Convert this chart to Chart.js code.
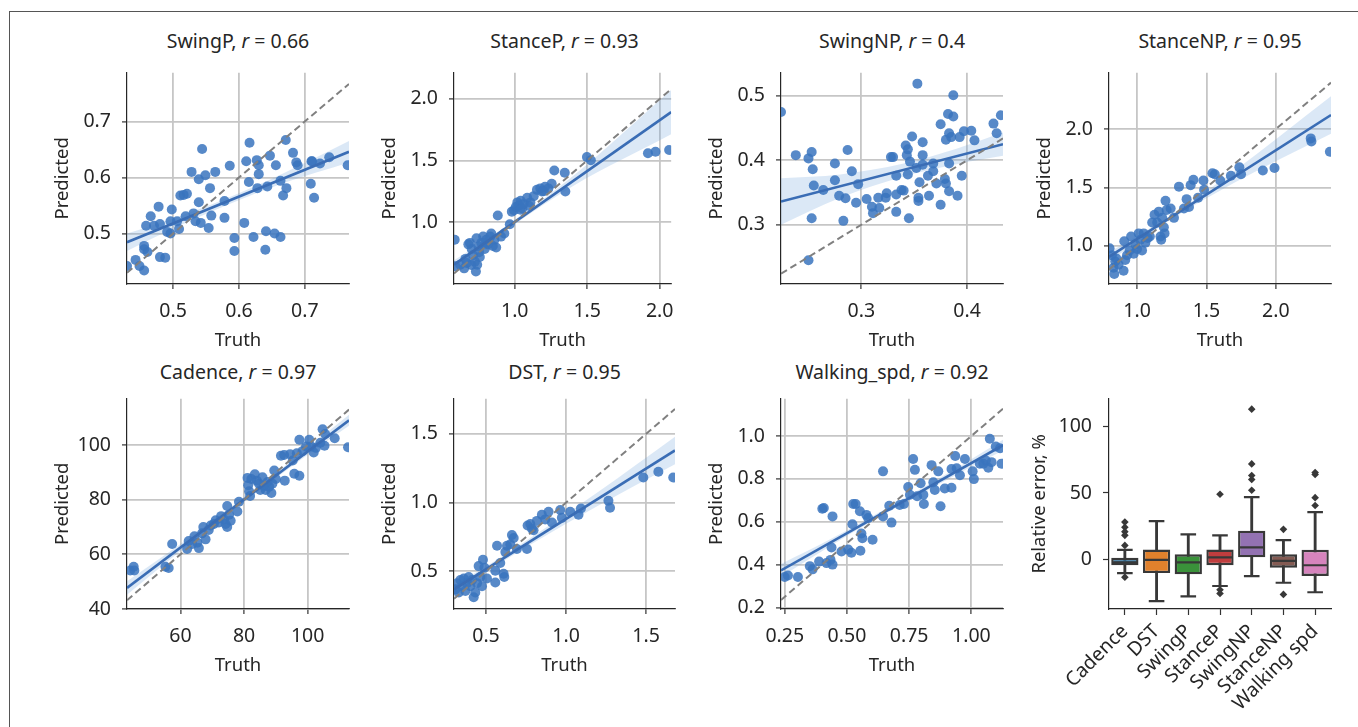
<!DOCTYPE html>
<html lang="en">
<head>
<meta charset="UTF-8">
<title>Gait parameter prediction</title>
<style>
  body { margin: 0; background: #fff; width: 1358px; height: 727px; overflow: hidden; position: relative;
         font-family: 'Noto Sans', sans-serif; color: #262626; }
  #frame { position: absolute; left: 9px; top: 11px; width: 1400px; height: 800px; border: 1px solid #555; }
  canvas { position: absolute; }
  .ttl { position: absolute; width: 320px; height: 26px; line-height: 26px; text-align: center;
         font-size: 19.5px; white-space: nowrap; }
</style>
<script src="https://cdn.jsdelivr.net/npm/chart.js@4.4.0/dist/chart.umd.min.js"></script>
</head>
<body>
<div id="frame"></div>
<script>
// ---- SwingP
const swingP_truth = [0.430,0.443,0.449,0.456,0.456,0.456,0.461,0.459,0.466,0.471,0.478,0.480,0.480,0.488,0.491,0.496,0.498,0.496,0.506,0.509,0.511,0.516,0.521,0.528,0.519,0.531,0.534,0.539,0.539,0.544,0.542,0.549,0.554,0.556,0.558,0.564,0.578,0.578,0.586,0.593,0.593,0.608,0.611,0.615,0.616,0.622,0.627,0.630,0.628,0.630,0.640,0.641,0.643,0.647,0.654,0.656,0.663,0.663,0.667,0.671,0.672,0.682,0.687,0.689,0.709,0.711,0.714,0.723,0.737,0.765,0.710];
const swingP_pred  = [0.442,0.453,0.442,0.434,0.478,0.472,0.467,0.514,0.531,0.514,0.548,0.517,0.458,0.457,0.503,0.522,0.543,0.500,0.522,0.508,0.568,0.569,0.571,0.610,0.531,0.536,0.522,0.556,0.597,0.651,0.519,0.604,0.510,0.581,0.532,0.610,0.558,0.528,0.621,0.469,0.492,0.519,0.629,0.592,0.662,0.494,0.631,0.622,0.581,0.606,0.471,0.504,0.584,0.639,0.500,0.622,0.494,0.594,0.568,0.667,0.581,0.644,0.627,0.622,0.589,0.629,0.564,0.625,0.636,0.622,0.629];
const swingP_fitX = [0.43, 0.767], swingP_fitY = [0.4845, 0.646];
const swingP_bandX = [0.43, 0.5, 0.58, 0.67, 0.767];
const swingP_bandLo = [0.469, 0.509, 0.550, 0.591, 0.627];
const swingP_bandHi = [0.500, 0.527, 0.562, 0.609, 0.665];

// ---- StanceP
const stanceP_truth = [0.590,0.624,0.651,0.669,0.680,0.691,0.703,0.714,0.725,0.732,0.736,0.741,0.754,0.759,0.770,0.782,0.793,0.804,0.815,0.831,0.838,0.849,0.860,0.872,0.883,0.905,0.928,0.966,0.980,0.995,1.007,1.018,1.029,1.041,1.052,1.063,1.086,1.108,1.131,1.153,1.176,1.187,1.209,1.232,1.255,1.273,1.345,1.349,1.498,1.525,1.919,1.971,2.065,0.586,0.66,0.70,0.75,0.80,1.04,1.10,1.20];
const stanceP_pred  = [0.641,0.653,0.623,0.666,0.818,0.830,0.780,0.729,0.678,0.597,0.868,0.653,0.754,0.716,0.830,0.881,0.780,0.856,0.818,0.881,0.906,0.805,0.856,0.792,1.053,0.881,0.906,0.982,1.084,1.096,1.122,1.159,1.134,1.172,1.109,1.147,1.197,1.159,1.210,1.261,1.273,1.248,1.286,1.273,1.311,1.418,1.400,1.248,1.527,1.501,1.559,1.570,1.585,0.856,0.70,0.65,0.80,0.83,1.10,1.13,1.25];
const stanceP_fitX = [0.581, 2.079], stanceP_fitY = [0.653, 1.893];
const stanceP_bandX = [0.581, 0.8, 1.0, 1.4, 2.079];
const stanceP_bandLo = [0.618, 0.812, 0.982, 1.291, 1.713];
const stanceP_bandHi = [0.688, 0.856, 1.018, 1.371, 2.073];

// ---- SwingNP
const swingNP_truth = [0.224,0.238,0.250,0.253,0.254,0.255,0.253,0.250,0.264,0.275,0.275,0.279,0.283,0.285,0.287,0.291,0.295,0.297,0.305,0.310,0.311,0.316,0.317,0.323,0.324,0.328,0.330,0.333,0.333,0.333,0.338,0.340,0.342,0.343,0.344,0.344,0.345,0.346,0.348,0.352,0.353,0.354,0.354,0.355,0.358,0.358,0.358,0.363,0.364,0.368,0.368,0.371,0.375,0.375,0.379,0.380,0.380,0.382,0.383,0.383,0.383,0.385,0.387,0.387,0.391,0.393,0.395,0.397,0.404,0.407,0.425,0.428,0.432];
const swingNP_pred  = [0.475,0.408,0.403,0.413,0.386,0.361,0.310,0.245,0.354,0.395,0.369,0.345,0.306,0.341,0.416,0.383,0.334,0.363,0.340,0.328,0.318,0.342,0.326,0.342,0.349,0.405,0.405,0.376,0.347,0.320,0.354,0.353,0.423,0.408,0.417,0.378,0.310,0.398,0.437,0.388,0.519,0.342,0.337,0.366,0.428,0.408,0.393,0.376,0.345,0.395,0.383,0.364,0.456,0.331,0.371,0.432,0.364,0.472,0.442,0.395,0.352,0.436,0.468,0.501,0.345,0.436,0.376,0.445,0.446,0.431,0.457,0.442,0.470];
const swingNP_fitX = [0.224, 0.434], swingNP_fitY = [0.336, 0.425];
const swingNP_bandX = [0.224, 0.28, 0.34, 0.39, 0.434];
const swingNP_bandLo = [0.300, 0.342, 0.375, 0.394, 0.407];
const swingNP_bandHi = [0.372, 0.378, 0.395, 0.418, 0.443];

// ---- StanceNP
const stanceNP_truth = [0.802,0.819,0.831,0.836,0.843,0.850,0.867,0.903,0.908,0.915,0.928,0.947,0.957,0.976,0.988,1.000,1.012,1.024,1.036,1.048,1.060,1.077,1.092,1.109,1.126,1.145,1.157,1.169,1.174,1.181,1.193,1.198,1.205,1.213,1.242,1.266,1.302,1.338,1.357,1.374,1.386,1.406,1.440,1.478,1.483,1.543,1.560,1.599,1.676,1.737,1.749,1.906,1.990,2.251,2.256,2.389];
const stanceNP_pred  = [0.979,0.920,0.813,0.760,0.867,0.893,0.840,0.787,1.040,0.880,0.920,0.960,1.080,0.933,1.013,0.973,1.107,1.053,0.960,1.107,1.027,1.067,1.080,1.200,1.267,1.200,1.293,1.080,1.053,1.240,1.160,1.107,1.387,1.307,1.320,1.240,1.507,1.320,1.400,1.333,1.520,1.565,1.413,1.560,1.480,1.621,1.613,1.560,1.600,1.672,1.613,1.645,1.667,1.920,1.893,1.805];
const stanceNP_fitX = [0.798, 2.397], stanceNP_fitY = [0.906, 2.120];
const stanceNP_bandX = [0.798, 1.0, 1.3, 1.7, 2.397];
const stanceNP_bandLo = [0.866, 1.034, 1.267, 1.541, 1.960];
const stanceNP_bandHi = [0.946, 1.084, 1.307, 1.641, 2.280];

// ---- Cadence
const cadence_truth = [44.2,45.3,45.5,55.3,56.3,57.4,62.1,62.6,63.7,64.4,65.3,65.8,66.8,67.9,67.2,68.9,69.5,70.5,71.1,72.1,72.8,73.7,74.2,74.7,74.7,75.3,75.8,77.9,78.4,81.1,81.3,81.6,81.9,82.3,83.4,84.0,84.7,85.1,85.8,86.3,86.8,87.4,87.9,88.6,88.9,89.5,90.0,91.6,92.6,92.8,94.5,95.3,95.8,97.4,96.6,97.4,98.4,99.5,100.5,101.1,101.9,102.6,104.0,104.7,105.3,105.5,112.7,108.5];
const cadence_pred  = [54.1,55.5,54.1,55.5,55.0,63.8,62.0,64.9,63.8,66.6,64.3,62.3,67.7,65.5,70.0,68.9,70.6,71.1,72.5,71.7,74.0,72.8,71.1,70.0,77.7,74.5,72.3,75.7,79.3,88.0,85.3,83.1,81.4,87.6,89.3,87.0,85.9,83.6,88.2,85.0,83.6,86.5,84.8,82.5,85.9,90.7,87.6,96.1,96.4,87.0,96.7,94.4,89.5,88.8,97.0,102.0,97.8,99.5,102.0,99.5,97.3,99.0,100.9,105.8,99.8,104.1,99.2,102.5];
const cadence_fitX = [43.2, 113], cadence_fitY = [47.7, 109.1];
const cadence_bandX = [43.2, 60, 80, 100, 113];
const cadence_bandLo = [45.2, 61.2, 79.2, 96.5, 107.1];
const cadence_bandHi = [50.2, 63.8, 81.0, 98.9, 111.1];

// ---- DST
const dst_truth = [0.309,0.319,0.330,0.340,0.350,0.361,0.371,0.381,0.392,0.402,0.413,0.423,0.433,0.444,0.454,0.465,0.475,0.481,0.490,0.506,0.558,0.558,0.569,0.589,0.610,0.614,0.621,0.631,0.652,0.662,0.673,0.693,0.756,0.760,0.777,0.787,0.797,0.818,0.849,0.870,0.891,0.912,0.964,0.974,1.026,1.078,1.093,1.265,1.275,1.483,1.577,1.670];
const dst_pred  = [0.369,0.414,0.346,0.437,0.391,0.448,0.357,0.414,0.459,0.391,0.437,0.312,0.346,0.414,0.538,0.459,0.391,0.584,0.527,0.448,0.419,0.505,0.686,0.561,0.482,0.459,0.640,0.686,0.697,0.765,0.742,0.663,0.663,0.833,0.844,0.810,0.799,0.867,0.912,0.878,0.934,0.855,0.946,0.889,0.934,0.912,0.957,1.014,0.962,1.183,1.224,1.183];
const dst_fitX = [0.30, 1.681], dst_fitY = [0.369, 1.380];
const dst_bandX = [0.30, 0.5, 0.8, 1.2, 1.681];
const dst_bandLo = [0.339, 0.495, 0.710, 0.978, 1.280];
const dst_bandHi = [0.399, 0.535, 0.760, 1.078, 1.480];

// ---- Walking_spd
const walk_truth = [0.250,0.263,0.303,0.351,0.362,0.388,0.401,0.407,0.418,0.434,0.438,0.442,0.442,0.478,0.505,0.518,0.522,0.525,0.535,0.552,0.554,0.558,0.562,0.578,0.585,0.603,0.645,0.645,0.679,0.670,0.712,0.729,0.746,0.766,0.773,0.753,0.782,0.796,0.807,0.809,0.840,0.847,0.853,0.867,0.876,0.893,0.920,0.920,0.935,0.941,0.954,0.974,1.005,1.010,1.034,1.048,1.058,1.068,1.074,1.081,1.098,1.121,1.115];
const walk_pred  = [0.342,0.349,0.342,0.393,0.378,0.414,0.661,0.664,0.407,0.422,0.480,0.625,0.400,0.461,0.470,0.455,0.588,0.683,0.683,0.649,0.465,0.545,0.523,0.632,0.617,0.516,0.835,0.625,0.596,0.675,0.678,0.683,0.762,0.893,0.842,0.726,0.719,0.780,0.726,0.683,0.864,0.784,0.748,0.835,0.672,0.755,0.759,0.846,0.907,0.849,0.817,0.893,0.835,0.799,0.871,0.871,0.886,0.852,0.987,0.878,0.951,0.871,0.943];
const walk_fitX = [0.235, 1.127], walk_fitY = [0.373, 0.957];
const walk_bandX = [0.235, 0.45, 0.7, 0.95, 1.127];
const walk_bandLo = [0.343, 0.499, 0.666, 0.826, 0.932];
const walk_bandHi = [0.403, 0.529, 0.690, 0.856, 0.982];

// ---- relative error box plot
const boxCats = ['Cadence', 'DST', 'SwingP', 'StanceP', 'SwingNP', 'StanceNP', 'Walking spd'];
const boxQ1  = [-4.0, -9.9, -10.8, -4.0, 1.9, -5.9, -12.0];
const boxQ3  = [1.6, 7.7, 4.2, 7.7, 21.8, 4.2, 7.5];
const boxMed = [-1.9, 0.0, -1.9, 1.9, 9.4, -0.7, -4.0];
const whiskLo = [-9.9, -30.8, -27.2, -19.5, -12.2, -17.1, -24.2];
const whiskHi = [7.5, 28.9, 19.0, 18.3, 46.9, 14.8, 35.7];
const outlierCat = ['Cadence','Cadence','Cadence','Cadence','Cadence','Cadence','StanceP','StanceP','StanceP','SwingNP','SwingNP','SwingNP','SwingNP','SwingNP','StanceNP','StanceNP','Walking spd','Walking spd','Walking spd','Walking spd'];
const outlierVal = [28.2, 24.4, 21.1, 18.3, 10.8, -12.9, 49.0, -22.3, -25.1, 52.0, 60.0, 63.0, 71.7, 112.6, 22.8, -25.8, 40.6, 46.5, 63.8, 65.3];
const boxColors = ['#3274a1', '#e1812c', '#3a923a', '#c03d3e', '#9372b2', '#845b53', '#d684bd'];

Chart.defaults.font.family = "'Noto Sans', sans-serif";
Chart.defaults.font.size = 19.5;
Chart.defaults.color = '#262626';

const dotBlue = 'rgba(58,116,190,0.85)';
const lineBlue = '#3a6db5';
const bandBlue = 'rgba(110,165,220,0.25)';
const ink = '#383838';
const axisTitleFont = { size: 18.5 };

function gridOpts() {
  return { color: '#c6c6c6', lineWidth: 1.8, drawTicks: true, tickLength: 5, tickColor: '#333', tickWidth: 1.2 };
}

function addCanvas(p, extraBottom) {
  const cv = document.createElement('canvas');
  cv.width = p.pr - p.pl + 90;
  cv.height = p.pb - p.pt + 8 + extraBottom;
  cv.style.left = (p.pl - 80) + 'px';
  cv.style.top = (p.pt - 8) + 'px';
  document.body.appendChild(cv);
  return cv;
}

function addTitle(p, html) {
  const t = document.createElement('div');
  t.className = 'ttl';
  t.innerHTML = html;
  t.style.left = ((p.pl + p.pr) / 2 - 160) + 'px';
  t.style.top = (p.ty - 13) + 'px';
  document.body.appendChild(t);
}

function toXY(xs, ys) { return xs.map((v, i) => ({ x: v, y: ys[i] })); }

function scatterPanel(p, d) {
  addTitle(p, d.name + ', <i>r</i> = ' + d.r);
  const cv = addCanvas(p, 70);
  new Chart(cv, {
    type: 'scatter',
    data: { datasets: [
      { type: 'line', data: toXY(d.xr, d.xr), borderColor: '#808080', borderDash: [7, 4], borderWidth: 2, pointRadius: 0, clip: 0 },
      { type: 'line', data: toXY(d.fitX, d.fitY), borderColor: lineBlue, borderWidth: 2.6, pointRadius: 0, clip: 0 },
      { data: toXY(d.x, d.y), backgroundColor: dotBlue, pointRadius: 5, pointBorderWidth: 0, clip: 0 },
      { type: 'line', data: toXY(d.bandX, d.bandLo), borderWidth: 0, pointRadius: 0, fill: false, cubicInterpolationMode: 'monotone', clip: 0 },
      { type: 'line', data: toXY(d.bandX, d.bandHi), borderWidth: 0, pointRadius: 0, fill: '-1', backgroundColor: bandBlue, cubicInterpolationMode: 'monotone', clip: 0 }
    ] },
    options: {
      responsive: false, animation: false, events: [],
      layout: { padding: { top: 8, right: 10, left: 0, bottom: 0 }, autoPadding: false },
      plugins: { legend: { display: false }, tooltip: { enabled: false } },
      scales: {
        x: {
          type: 'linear', min: d.xr[0], max: d.xr[1],
          afterFit: s => { s.height = 70; },
          afterBuildTicks: s => { s.ticks = d.xt.map(v => ({ value: v })); },
          ticks: { padding: 11, maxRotation: 0, autoSkip: false, callback: v => v.toFixed(d.xd) },
          grid: gridOpts(), border: { display: true, color: '#262626', width: 1.2 },
          title: { display: true, text: 'Truth', font: axisTitleFont, padding: { top: 0, bottom: 2 } }
        },
        y: {
          type: 'linear', min: d.yr[0], max: d.yr[1],
          afterFit: s => { s.width = 80; },
          afterBuildTicks: s => { s.ticks = d.yt.map(v => ({ value: v })); },
          ticks: { padding: 11, autoSkip: false, callback: v => v.toFixed(d.yd) },
          grid: gridOpts(), border: { display: true, color: '#262626', width: 1.2 },
          title: { display: true, text: 'Predicted', font: axisTitleFont, padding: { top: 5, bottom: 0 } }
        }
      }
    }
  });
}

const row1 = { pt: 58, pb: 284, ty: 41 };
const row2 = { pt: 384, pb: 609, ty: 372 };
const cols = [[127, 349], [454, 675], [781, 1003], [1109, 1331]];
function slot(r, c) { return { pl: cols[c][0], pr: cols[c][1], pt: r.pt, pb: r.pb, ty: r.ty }; }

scatterPanel(slot(row1, 0), { name: 'SwingP', r: '0.66', x: swingP_truth, y: swingP_pred, fitX: swingP_fitX, fitY: swingP_fitY,
  bandX: swingP_bandX, bandLo: swingP_bandLo, bandHi: swingP_bandHi, xr: [0.43, 0.767], yr: [0.41, 0.787],
  xt: [0.5, 0.6, 0.7], yt: [0.5, 0.6, 0.7], xd: 1, yd: 1 });
scatterPanel(slot(row1, 1), { name: 'StanceP', r: '0.93', x: stanceP_truth, y: stanceP_pred, fitX: stanceP_fitX, fitY: stanceP_fitY,
  bandX: stanceP_bandX, bandLo: stanceP_bandLo, bandHi: stanceP_bandHi, xr: [0.581, 2.079], yr: [0.496, 2.213],
  xt: [1.0, 1.5, 2.0], yt: [1.0, 1.5, 2.0], xd: 1, yd: 1 });
scatterPanel(slot(row1, 2), { name: 'SwingNP', r: '0.4', x: swingNP_truth, y: swingNP_pred, fitX: swingNP_fitX, fitY: swingNP_fitY,
  bandX: swingNP_bandX, bandLo: swingNP_bandLo, bandHi: swingNP_bandHi, xr: [0.224, 0.434], yr: [0.208, 0.536],
  xt: [0.3, 0.4], yt: [0.3, 0.4, 0.5], xd: 1, yd: 1 });
scatterPanel(slot(row1, 3), { name: 'StanceNP', r: '0.95', x: stanceNP_truth, y: stanceNP_pred, fitX: stanceNP_fitX, fitY: stanceNP_fitY,
  bandX: stanceNP_bandX, bandLo: stanceNP_bandLo, bandHi: stanceNP_bandHi, xr: [0.798, 2.397], yr: [0.674, 2.482],
  xt: [1.0, 1.5, 2.0], yt: [1.0, 1.5, 2.0], xd: 1, yd: 1 });
scatterPanel(slot(row2, 0), { name: 'Cadence', r: '0.97', x: cadence_truth, y: cadence_pred, fitX: cadence_fitX, fitY: cadence_fitY,
  bandX: cadence_bandX, bandLo: cadence_bandLo, bandHi: cadence_bandHi, xr: [43.2, 113], yr: [40, 117],
  xt: [60, 80, 100], yt: [40, 60, 80, 100], xd: 0, yd: 0 });
scatterPanel(slot(row2, 1), { name: 'DST', r: '0.95', x: dst_truth, y: dst_pred, fitX: dst_fitX, fitY: dst_fitY,
  bandX: dst_bandX, bandLo: dst_bandLo, bandHi: dst_bandHi, xr: [0.30, 1.681], yr: [0.226, 1.756],
  xt: [0.5, 1.0, 1.5], yt: [0.5, 1.0, 1.5], xd: 1, yd: 1 });
scatterPanel(slot(row2, 2), { name: 'Walking_spd', r: '0.92', x: walk_truth, y: walk_pred, fitX: walk_fitX, fitY: walk_fitY,
  bandX: walk_bandX, bandLo: walk_bandLo, bandHi: walk_bandHi, xr: [0.235, 1.127], yr: [0.193, 1.174],
  xt: [0.25, 0.5, 0.75, 1.0], yt: [0.2, 0.4, 0.6, 0.8, 1.0], xd: 2, yd: 1 });

// box plot of relative errors
(function () {
  const p = slot(row2, 3);
  const cv = addCanvas(p, 118);
  const pointLine = (data, r) => ({ type: 'line', data: data, showLine: false, pointStyle: 'line', pointRadius: r,
    borderColor: ink, pointBorderColor: ink, pointBorderWidth: 2.2 });
  new Chart(cv, {
    type: 'bar',
    data: { labels: boxCats, datasets: [
      { type: 'line', data: toXY(outlierCat, outlierVal), showLine: false, pointStyle: 'rectRot', pointRadius: 3.8,
        backgroundColor: ink, pointBackgroundColor: ink, pointBorderWidth: 0 },
      pointLine(boxMed, 12.3),
      pointLine(whiskHi, 7.8),
      pointLine(whiskLo, 7.8),
      { data: boxQ1.map((v, i) => [v, boxQ3[i]]), backgroundColor: boxColors, borderColor: ink, borderWidth: 2.4,
        borderSkipped: false, barPercentage: 0.86, categoryPercentage: 1, grouped: false },
      { data: whiskLo.map((v, i) => [v, whiskHi[i]]), backgroundColor: ink, barThickness: 2.2, grouped: false }
    ] },
    options: {
      responsive: false, animation: false, events: [],
      layout: { padding: { top: 8, right: 10, left: 0, bottom: 0 }, autoPadding: false },
      plugins: { legend: { display: false }, tooltip: { enabled: false } },
      scales: {
        x: {
          type: 'category', offset: true,
          afterFit: s => { s.height = 118; },
          ticks: { padding: 5, minRotation: 45, maxRotation: 45, autoSkip: false, font: { size: 19.5 } },
          grid: { offset: false, drawOnChartArea: false, drawTicks: true, tickLength: 6, tickColor: '#333', tickWidth: 1.2 },
          border: { display: true, color: '#262626', width: 1.2 }
        },
        y: {
          type: 'linear', min: -36.7, max: 120.4,
          afterFit: s => { s.width = 80; },
          afterBuildTicks: s => { s.ticks = [0, 50, 100].map(v => ({ value: v })); },
          ticks: { padding: 11, callback: v => String(v) },
          grid: { drawOnChartArea: false, drawTicks: true, tickLength: 6, tickColor: '#333', tickWidth: 1.2 },
          border: { display: true, color: '#262626', width: 1.2 },
          title: { display: true, text: 'Relative error, %', font: axisTitleFont, padding: { top: 0, bottom: 0 } }
        }
      }
    }
  });
})();
</script>
</body>
</html>
